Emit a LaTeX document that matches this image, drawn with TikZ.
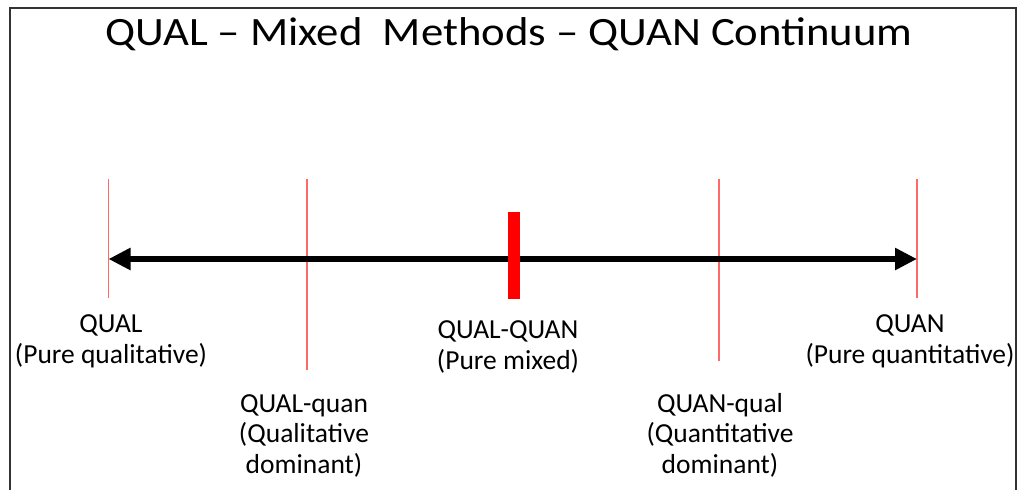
\documentclass[tikz,border=0pt]{standalone}
\usepackage{fontspec}
\setmainfont{Carlito}
\usetikzlibrary{arrows.meta}
\definecolor{tickred}{RGB}{255,105,105}
\tikzset{
  frame/.style={draw=black!80, line width=1.5pt},
  tick/.style={draw=tickred, line width=1.1pt},
  biarrow/.style={line width=6.5pt, {Triangle[length=22pt,width=21pt]}-{Triangle[length=22pt,width=21pt]}},
  lbl/.style={align=center, inner sep=0pt, anchor=base, font=\fontsize{27.5}{30.5}\selectfont},
  ttl/.style={inner sep=0pt, anchor=base, font=\fontsize{44.7}{50}\selectfont}
}
\begin{document}
\begin{tikzpicture}[x=1pt,y=-1pt]
\useasboundingbox (0,0) rectangle (1020,490);
% frame (bottom edge lies outside the picture)
\draw[frame] (10,490) -- (10,8) -- (1016,8) -- (1016,490);
% title
\node[ttl] (title) at (509,45) {\scalebox{1}[0.9]{QUAL -- Mixed \ Methods -- QUAN Continuum}};
% ticks
\coordinate (t1a) at (108.5,179); \coordinate (t1b) at (108.5,298);
\coordinate (t2a) at (307,179);   \coordinate (t2b) at (307,370);
\coordinate (t4a) at (719,179);   \coordinate (t4b) at (719,361);
\coordinate (t5a) at (917,179);   \coordinate (t5b) at (917,298);
\draw[tick] (t1a) -- (t1b);
\draw[tick] (t2a) -- (t2b);
\draw[tick] (t4a) -- (t4b);
\draw[tick] (t5a) -- (t5b);
% continuum arrow
\coordinate (aL) at (108.5,259);
\coordinate (aR) at (917,259);
\draw[biarrow] (aL) -- (aR);
% middle bar
\fill[red] (508,212) rectangle (519.5,299);
% labels (anchor = baseline of the last line)
\node[lbl] (qual) at (111,363) {QUAL\\(Pure qualitative)};
\node[lbl] (qualquan) at (304,473) {QUAL-quan\\(Qualitative\\dominant)};
\node[lbl] (mixed) at (508,369) {QUAL-QUAN\\(Pure mixed)};
\node[lbl] (quanqual) at (720,473) {QUAN-qual\\(Quantitative\\dominant)};
\node[lbl] (quan) at (910,363) {QUAN\\(Pure quantitative)};
\end{tikzpicture}
\end{document}
